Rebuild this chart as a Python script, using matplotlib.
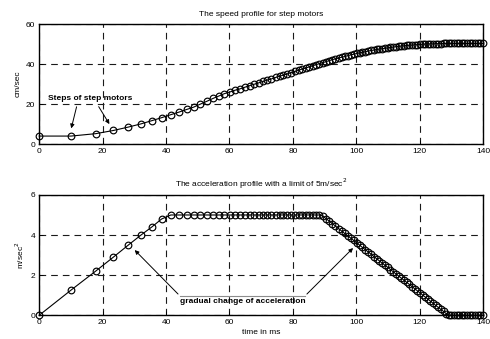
import numpy as np
import matplotlib
matplotlib.use('Agg')
import matplotlib.pyplot as plt

plt.rcParams['font.family'] = ['Liberation Sans', 'DejaVu Sans']
plt.rcParams['font.size'] = 6

# step instants (ms)
t = [0, 10, 17.8, 23.4, 28.1, 32.1, 35.5, 38.6,
     41.5, 44.1, 46.5, 48.75, 50.86, 52.87, 54.78, 56.61, 58.37, 60.07,
     61.70, 63.29, 64.82, 66.32, 67.77, 69.19, 70.57, 71.92, 73.24, 74.53,
     75.80, 77.04, 78.26, 79.46, 80.63, 81.79, 82.92, 84.04, 85.15, 86.23,
     87.30, 88.36,
     89.40, 90.43, 91.44, 92.44, 93.43, 94.41, 95.38, 96.34, 97.30, 98.24,
     99.17, 100.10, 101.02, 101.94, 102.84, 103.75, 104.64, 105.53, 106.42,
     107.30, 108.17, 109.05, 109.91, 110.77, 111.63, 112.49, 113.34, 114.19,
     115.04, 115.88, 116.72, 117.56, 118.40, 119.24, 120.07, 120.90, 121.73,
     122.56, 123.39, 124.22, 125.05, 125.87, 126.70, 127.52, 128.35, 129.17,
     130.00, 130.82, 131.65, 132.47, 133.30, 134.12, 134.95, 135.77, 136.60,
     137.42, 138.25, 139.07, 139.90]

# speed at each step (cm/sec)
speed = [4, 4, 5.2, 6.8, 8.5, 10.1, 11.7, 13.2,
         14.7, 16.0, 17.3, 18.5, 20.0, 21.4, 22.8, 24.0, 25.2, 26.0,
         26.9, 27.6, 28.4, 29.2, 29.9, 30.6, 31.3, 32.0, 32.6, 33.3,
         33.9, 34.5, 35.1, 35.7, 36.3, 36.9, 37.5, 38.0, 38.6, 39.1,
         39.7, 40.2,
         40.7, 41.2, 41.7, 42.2, 42.6, 43.0, 43.4, 43.8, 44.2, 44.6,
         44.9, 45.3, 45.6, 45.9, 46.2, 46.5, 46.8, 47.0, 47.3,
         47.5, 47.7, 47.9, 48.1, 48.3, 48.5, 48.7, 48.9, 49.0,
         49.1, 49.3, 49.4, 49.5, 49.6, 49.7, 49.8, 49.9, 50.0,
         50.0, 50.1, 50.1, 50.2, 50.2, 50.2, 50.3, 50.3, 50.3,
         50.3, 50.3, 50.3, 50.3, 50.3, 50.3, 50.3, 50.3, 50.3,
         50.3, 50.3, 50.3, 50.3]

# acceleration at each step (m/sec^2)
accel = [0, 1.25, 2.2, 2.9, 3.5, 4.0, 4.4, 4.8,
         5, 5, 5, 5, 5, 5, 5, 5, 5, 5,
         5, 5, 5, 5, 5, 5, 5, 5, 5, 5,
         5, 5, 5, 5, 5, 5, 5, 5, 5, 5,
         5, 5,
         4.95, 4.82, 4.70, 4.57, 4.45, 4.32, 4.20, 4.08, 3.96, 3.85,
         3.73, 3.61, 3.50, 3.38, 3.27, 3.16, 3.05, 2.93, 2.82,
         2.71, 2.60, 2.49, 2.39, 2.28, 2.17, 2.06, 1.96, 1.85,
         1.75, 1.64, 1.54, 1.43, 1.33, 1.22, 1.12, 1.01, 0.91,
         0.81, 0.70, 0.60, 0.49, 0.39, 0.29, 0.19, 0.08, 0,
         0, 0, 0, 0, 0, 0, 0, 0, 0,
         0, 0, 0, 0]

fig = plt.figure(figsize=(4.9, 3.39), dpi=100)
ax1 = fig.add_axes([0.080, 0.575, 0.906, 0.354])
ax2 = fig.add_axes([0.080, 0.070, 0.906, 0.355])

def style(ax):
    ax.grid(True, color='0.1', linestyle=(0, (6, 4.5)), linewidth=0.8)
    ax.tick_params(direction='in', length=3, width=0.6, labelsize=6, pad=3)
    for s in ax.spines.values():
        s.set_linewidth(1.0)
    ax.set_xlim(0, 140)
    ax.set_xticks(np.arange(0, 141, 20))

ax1.plot(t, speed, 'k-', lw=0.8, marker='o', mfc='none', mec='k',
         ms=4.8, mew=0.85, clip_on=False, zorder=3)
style(ax1)
ax1.set_ylim(0, 60)
ax1.set_yticks([0, 20, 40, 60])
ax1.set_ylabel('cm/sec', fontsize=6, labelpad=3)
ax1.set_title('The speed profile for step motors', fontsize=6, pad=6)

ax1.text(2.8, 22.9, 'Steps of step motors', fontsize=6, fontweight='bold',
         va='center', ha='left', zorder=4)
ax1.annotate('', xy=(9.9, 6.5), xytext=(12.0, 20.0),
             arrowprops=dict(arrowstyle='-|>', color='k', lw=0.7, mutation_scale=6))
ax1.annotate('', xy=(22.6, 8.8), xytext=(18.3, 19.9),
             arrowprops=dict(arrowstyle='-|>', color='k', lw=0.7, mutation_scale=6))

ax2.plot(t, accel, 'k-', lw=0.8, marker='o', mfc='none', mec='k',
         ms=4.8, mew=0.85, clip_on=False, zorder=3)
style(ax2)
ax2.set_ylim(0, 6)
ax2.set_yticks([0, 2, 4, 6])
ax2.set_ylabel('m/sec$^2$', fontsize=6, labelpad=3)
ax2.set_xlabel('time in ms', fontsize=6, labelpad=2)
ax2.set_title('The acceleration profile with a limit of 5m/sec$^2$', fontsize=6, pad=6)

ax2.plot([44.4, 83.8], [0.96, 0.96], color='0.55', lw=0.8, zorder=2)
ax2.text(44.5, 0.69, 'gradual change of acceleration', fontsize=6,
         fontweight='bold', va='center', ha='left', zorder=2)
ax2.annotate('', xy=(29.5, 3.35), xytext=(44.4, 0.96),
             arrowprops=dict(arrowstyle='-|>', color='k', lw=0.7, mutation_scale=6))
ax2.annotate('', xy=(99.6, 3.45), xytext=(83.8, 0.96),
             arrowprops=dict(arrowstyle='-|>', color='k', lw=0.7, mutation_scale=6))

fig.savefig('out.png', dpi=100, facecolor='white')
